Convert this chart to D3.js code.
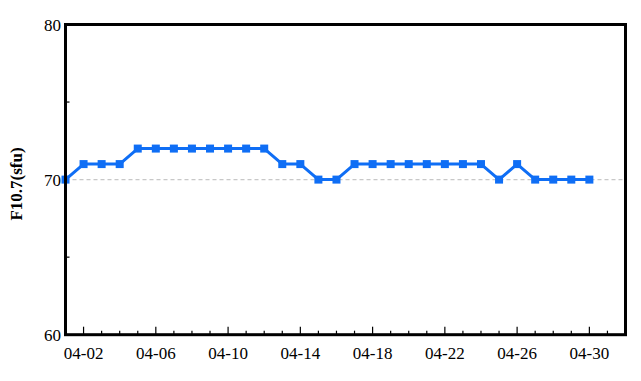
<!DOCTYPE html>
<html><head><meta charset="utf-8">
<script src="https://cdn.jsdelivr.net/npm/d3@7"></script>
<style>body{margin:0;background:#fff}svg{display:block}text{font-family:"Liberation Serif","Times New Roman",serif}</style>
</head><body><svg id="c" width="641" height="381"></svg>
<script>
const dates = ["04-01","04-02","04-03","04-04","04-05","04-06","04-07","04-08","04-09","04-10","04-11","04-12","04-13","04-14","04-15","04-16","04-17","04-18","04-19","04-20","04-21","04-22","04-23","04-24","04-25","04-26","04-27","04-28","04-29","04-30"];
const f107 = [70,71,71,71,72,72,72,72,72,72,72,72,71,71,70,70,71,71,71,71,71,71,71,71,70,71,70,70,70,70];
const yTicks = [60,70,80];
const yMinor = [65,75];
const xLabels = ["04-02","04-06","04-10","04-14","04-18","04-22","04-26","04-30"];
const yLabel = "F10.7(sfu)";
const year = 2024;

const parse = s => new Date(Date.UTC(year, +s.slice(0,2)-1, +s.slice(3)));
const svg = d3.select("#c");
const L=65.5, R=625.5, T=24.5, B=334.7;
const x = d3.scaleUtc().domain([parse("04-01"), parse("05-02")]).range([L,R]);
const y = d3.scaleLinear().domain([60,80]).range([B,T]);
const blue = "#0f6ef5";

svg.append("line").attr("x1",L).attr("x2",R).attr("y1",y(70)).attr("y2",y(70))
  .attr("stroke","#c8c8c8").attr("stroke-width",1.3).attr("stroke-dasharray","4,3");

const days = d3.utcDay.range(parse("04-01"), parse("05-02"));
const majorSet = new Set(xLabels);
const fmt = d3.utcFormat("%m-%d");
svg.append("g").selectAll("line").data(days.filter(d=>+d!==+parse("04-01"))).join("line")
  .attr("x1",d=>x(d)).attr("x2",d=>x(d))
  .attr("y1",B).attr("y2",d=>majorSet.has(fmt(d))?B-8:B-4)
  .attr("stroke","#000").attr("stroke-width",1.2);

svg.append("g").selectAll("text").data(xLabels).join("text")
  .attr("x",d=>x(parse(d))).attr("y",359).attr("text-anchor","middle")
  .attr("font-size",17).attr("fill","#000").text(d=>d);

svg.append("g").selectAll("line").data(yMinor).join("line")
  .attr("x1",L).attr("x2",L+4).attr("y1",d=>y(d)).attr("y2",d=>y(d))
  .attr("stroke","#000").attr("stroke-width",1.2);
svg.append("g").selectAll("text").data(yTicks).join("text")
  .attr("x",61).attr("y",d=>y(d)+6).attr("text-anchor","end")
  .attr("font-size",17).attr("fill","#000").text(d=>d);

svg.append("text").attr("transform",`translate(22,184) rotate(-90)`).attr("text-anchor","middle")
  .attr("font-size",17).attr("font-weight","bold").attr("fill","#000").text(yLabel);

const pts = dates.map((d,i)=>({d:parse(d),v:f107[i]}));
svg.append("path").datum(pts).attr("fill","none").attr("stroke",blue).attr("stroke-width",3)
  .attr("stroke-linejoin","round")
  .attr("d",d3.line().x(p=>x(p.d)).y(p=>y(p.v)));
svg.append("g").selectAll("rect").data(pts).join("rect")
  .attr("x",p=>x(p.d)-4).attr("y",p=>y(p.v)-4).attr("width",8).attr("height",8).attr("fill",blue);

svg.append("rect").attr("x",L).attr("y",T).attr("width",R-L).attr("height",B-T)
  .attr("fill","none").attr("stroke","#000").attr("stroke-width",3);
</script></body></html>
